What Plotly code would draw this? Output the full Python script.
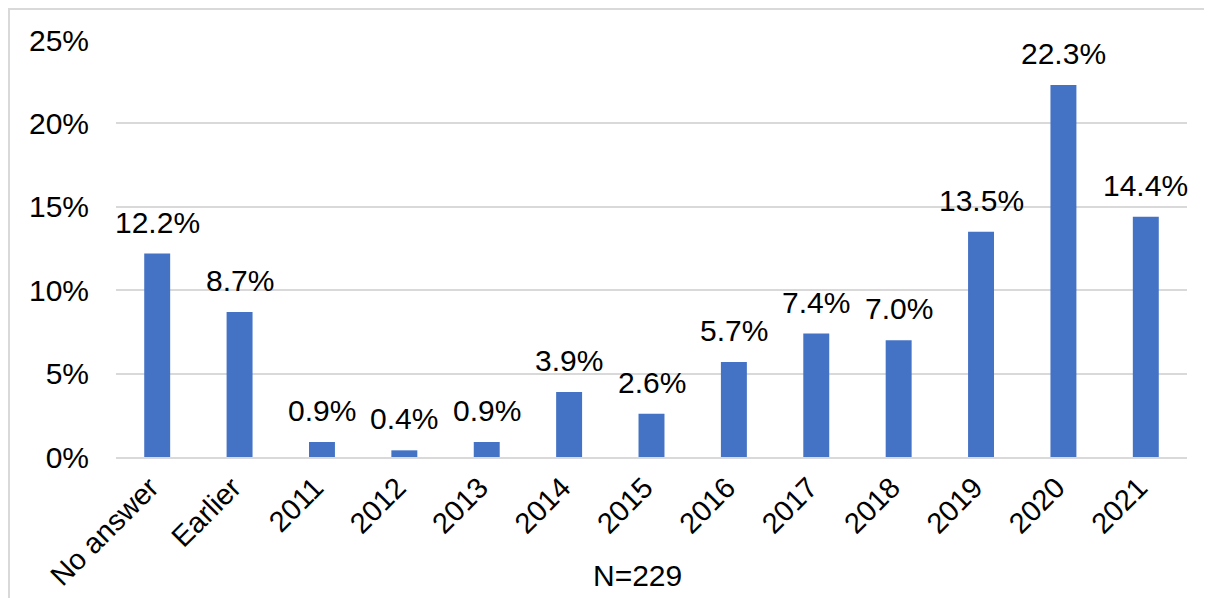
import plotly.graph_objects as go

categories = ["No answer", "Earlier", "2011", "2012", "2013", "2014", "2015",
              "2016", "2017", "2018", "2019", "2020", "2021"]
values = [12.2, 8.7, 0.9, 0.4, 0.9, 3.9, 2.6, 5.7, 7.4, 7.0, 13.5, 22.3, 14.4]
y_ticks = [0, 5, 10, 15, 20, 25]
y_tick_labels = ["0%", "5%", "10%", "15%", "20%", "25%"]
x_title = "N=229"

FONT = "Liberation Sans, Arial, sans-serif"

fig = go.Figure()
fig.add_trace(go.Bar(
    x=categories, y=values,
    marker=dict(color="#4472C4", line=dict(width=0)),
    hoverinfo="skip",
))

# data labels (x given as category index so numeric-looking names are not misread)
for i, v in enumerate(values):
    fig.add_annotation(
        x=i, y=v, text=f"{v:.1f}%", showarrow=False,
        xanchor="center", yanchor="bottom", yshift=13,
        font=dict(family=FONT, size=30, color="#000000"),
    )

fig.add_annotation(
    x=0.4865, y=-0.283, xref="paper", yref="paper", text=x_title,
    showarrow=False, xanchor="center", yanchor="middle",
    font=dict(family=FONT, size=30, color="#000000"),
)

# chart-area border
fig.add_shape(type="rect", xref="paper", yref="paper",
              x0=-0.0999, x1=1.2, y0=-0.5, y1=1.0743,
              line=dict(color="#d9d9d9", width=2), fillcolor="rgba(0,0,0,0)",
              layer="below")

fig.update_layout(
    width=1204, height=590,
    margin=dict(l=108, r=25, t=32, b=141, autoexpand=False),
    paper_bgcolor="white", plot_bgcolor="white",
    bargap=0.685,
    showlegend=False,
    font=dict(family=FONT, size=30, color="#000000"),
    xaxis=dict(
        type="category", automargin=False,
        range=[-0.5, len(categories) - 0.5],
        tickangle=-45, showgrid=False, showline=True,
        linecolor="#d9d9d9", linewidth=2, ticks="",
        ticklabelshift=-7,
        tickfont=dict(family=FONT, size=29, color="#000000"),
    ),
    yaxis=dict(
        automargin=False,
        range=[0, 25], tickmode="array", tickvals=y_ticks, ticktext=y_tick_labels,
        showgrid=True, gridcolor="#d9d9d9", gridwidth=2,
        zeroline=False, showline=False, ticks="",
        ticklabelstandoff=26,
        tickfont=dict(family=FONT, size=30, color="#000000"),
    ),
)

fig.write_html("out.html")
